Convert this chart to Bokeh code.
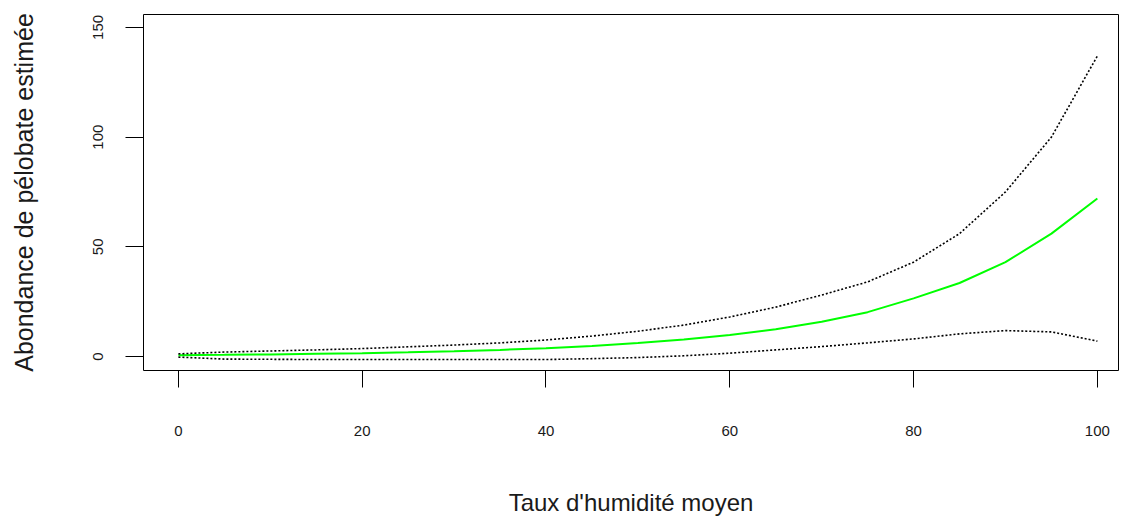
from bokeh.plotting import figure
from bokeh.models import Range1d, FixedTicker
from bokeh.embed import file_html
from bokeh.resources import INLINE

# Data
humidity = [0, 5, 10, 15, 20, 25, 30, 35, 40, 45, 50, 55, 60, 65, 70, 75, 80, 85, 90, 95, 100]
fit = [0.6, 0.75, 0.95, 1.2, 1.5, 1.9, 2.4, 3.0, 3.8, 4.8, 6.1, 7.7, 9.8, 12.4, 15.8, 20.2, 26.5, 33.5, 43.0, 56.0, 72.0]
upper = [1.2, 2.0, 2.5, 3.0, 3.6, 4.4, 5.2, 6.2, 7.5, 9.3, 11.5, 14.3, 18.0, 22.5, 28.0, 34.0, 43.0, 56.0, 75.0, 100.0, 137.0]
lower = [-0.3, -1.2, -1.3, -1.4, -1.4, -1.4, -1.4, -1.4, -1.4, -1.0, -0.5, 0.3, 1.5, 3.0, 4.5, 6.2, 8.0, 10.3, 11.8, 11.2, 7.0]
x_ticks = [0, 20, 40, 60, 80, 100]
y_ticks = [0, 50, 100, 150]

FONT = "Liberation Sans"
TXT = "#1a1a1a"

p = figure(width=1121, height=518, output_backend="svg", toolbar_location=None,
           x_range=Range1d(-3.8, 102.3), y_range=Range1d(-6.4, 155.9),
           min_border_left=143, min_border_top=14, min_border_right=3, min_border_bottom=147)

p.grid.visible = False
p.outline_line_color = "black"
p.outline_line_width = 1
p.background_fill_color = "white"
p.border_fill_color = "white"

p.line(humidity, fit, line_color="#00FF00", line_width=2)
p.line(humidity, upper, line_color="black", line_width=1.6, line_dash="2 2")
p.line(humidity, lower, line_color="black", line_width=1.6, line_dash="2 2")

xa = p.xaxis[0]
xa.ticker = FixedTicker(ticks=x_ticks)
xa.axis_line_color = None
xa.major_tick_out = 17
xa.major_tick_in = 0
xa.minor_tick_line_color = None
xa.major_tick_line_color = "black"
xa.major_label_standoff = 38
xa.major_label_text_font = FONT
xa.major_label_text_font_size = "15px"
xa.major_label_text_color = TXT
xa.axis_label = "Taux d'humidité moyen"
xa.axis_label_text_font = FONT
xa.axis_label_text_font_size = "24px"
xa.axis_label_text_font_style = "normal"
xa.axis_label_text_color = TXT
xa.axis_label_standoff = 50

ya = p.yaxis[0]
ya.ticker = FixedTicker(ticks=y_ticks)
ya.axis_line_color = None
ya.major_tick_out = 18
ya.major_tick_in = 0
ya.minor_tick_line_color = None
ya.major_tick_line_color = "black"
ya.major_label_orientation = "vertical"
ya.major_label_standoff = 22
ya.major_label_text_font = FONT
ya.major_label_text_font_size = "15px"
ya.major_label_text_color = TXT
ya.axis_label = "Abondance de pélobate estimée"
ya.axis_label_text_font = FONT
ya.axis_label_text_font_size = "25px"
ya.axis_label_text_font_style = "normal"
ya.axis_label_text_color = TXT
ya.axis_label_standoff = 53

open("out.html", "w").write(file_html(p, INLINE))
